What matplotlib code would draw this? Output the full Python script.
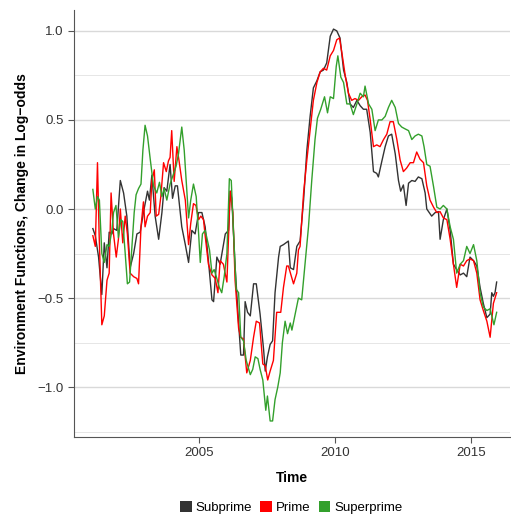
import numpy as np
import matplotlib.pyplot as plt
from matplotlib.patches import Patch

plt.rcParams['font.family'] = ['Liberation Sans', 'DejaVu Sans']

# Subprime
sub_t = [2001.09, 2001.18, 2001.30, 2001.42, 2001.51, 2001.61, 2001.69, 2001.79, 2001.85, 2001.97,
         2002.10, 2002.22, 2002.34, 2002.46, 2002.59, 2002.71, 2002.83, 2002.95, 2003.10, 2003.17,
         2003.26, 2003.38, 2003.51, 2003.63, 2003.71, 2003.81, 2003.93, 2004.02, 2004.12, 2004.20,
         2004.36, 2004.49, 2004.61, 2004.73, 2004.85, 2004.98, 2005.10, 2005.22, 2005.34, 2005.47,
         2005.53, 2005.65, 2005.77, 2005.96, 2006.08, 2006.14, 2006.20, 2006.32, 2006.45, 2006.53,
         2006.63, 2006.69, 2006.78, 2006.88, 2007.00, 2007.10, 2007.24, 2007.37, 2007.43, 2007.51,
         2007.61, 2007.70, 2007.79, 2007.92, 2007.98, 2008.10, 2008.28,
         2008.35, 2008.47, 2008.59, 2008.71, 2008.84, 2008.96, 2009.08, 2009.20, 2009.33, 2009.45,
         2009.57, 2009.69, 2009.82, 2009.94, 2010.06, 2010.18, 2010.31, 2010.43, 2010.55, 2010.67,
         2010.80, 2010.92, 2011.04, 2011.16, 2011.29, 2011.41, 2011.53, 2011.59, 2011.72, 2011.84,
         2011.96, 2012.08, 2012.21, 2012.33, 2012.41, 2012.51, 2012.61, 2012.70, 2012.82, 2012.94,
         2013.06, 2013.19, 2013.31, 2013.37, 2013.55, 2013.68, 2013.80, 2013.86, 2013.98, 2014.11,
         2014.23, 2014.35, 2014.47, 2014.60, 2014.72, 2014.84, 2014.96, 2015.09, 2015.21, 2015.33,
         2015.45, 2015.58, 2015.70, 2015.76, 2015.82, 2015.88, 2015.94]
sub_v = [-0.11, -0.15, -0.27, -0.48, -0.19, -0.33, -0.13, -0.14, -0.11, -0.12,
         0.16, 0.09, -0.04, -0.33, -0.25, -0.14, -0.13, -0.02, 0.10, 0.05,
         0.19, -0.04, -0.17, -0.02, 0.12, 0.10, 0.25, 0.06, 0.13, 0.13,
         -0.10, -0.20, -0.30, -0.12, -0.14, -0.02, -0.02, -0.10, -0.29, -0.51,
         -0.52, -0.27, -0.31, -0.14, -0.12, 0.10, 0.06, -0.32, -0.64, -0.82,
         -0.82, -0.52, -0.58, -0.60, -0.42, -0.42, -0.59, -0.79, -0.91, -0.83,
         -0.76, -0.74, -0.47, -0.27, -0.21, -0.20, -0.18,
         -0.33, -0.34, -0.21, -0.18, 0.05, 0.33, 0.52, 0.68, 0.72, 0.77,
         0.78, 0.82, 0.97, 1.01, 1.00, 0.96, 0.78, 0.71, 0.59, 0.57,
         0.61, 0.58, 0.56, 0.56, 0.43, 0.21, 0.20, 0.18, 0.27, 0.35,
         0.41, 0.42, 0.31, 0.16, 0.10, 0.135, 0.02, 0.145, 0.16, 0.155,
         0.18, 0.17, 0.09, 0.0, -0.04, -0.02, -0.015, -0.17, -0.06, 0.0,
         -0.12, -0.31, -0.34, -0.37, -0.36, -0.38, -0.27, -0.29, -0.32, -0.44,
         -0.53, -0.61, -0.59, -0.47, -0.49, -0.47, -0.41]

# Prime
pri_t = [2001.09, 2001.18, 2001.26, 2001.32, 2001.42, 2001.51, 2001.61, 2001.69, 2001.76, 2001.85,
         2001.95, 2002.03, 2002.10, 2002.19, 2002.28, 2002.36, 2002.46, 2002.59, 2002.71, 2002.77,
         2002.86, 2002.95, 2003.01, 2003.10, 2003.20, 2003.26, 2003.35, 2003.42, 2003.51, 2003.59,
         2003.69, 2003.79, 2003.87, 2003.93, 2003.99, 2004.08, 2004.18, 2004.26, 2004.36, 2004.49,
         2004.61, 2004.69, 2004.79, 2004.88, 2004.98, 2005.06, 2005.16, 2005.22, 2005.34, 2005.47,
         2005.59, 2005.69, 2005.77, 2005.89, 2006.02, 2006.14, 2006.24, 2006.32, 2006.45, 2006.53,
         2006.63, 2006.75, 2006.88, 2007.00, 2007.10, 2007.22, 2007.34, 2007.43, 2007.52, 2007.61,
         2007.73, 2007.85, 2008.00, 2008.10, 2008.22,
         2008.28, 2008.47, 2008.59, 2008.65, 2008.71, 2008.84, 2008.96, 2009.08, 2009.20, 2009.33,
         2009.45, 2009.57, 2009.69, 2009.82, 2009.94, 2010.06, 2010.16, 2010.25, 2010.37, 2010.49,
         2010.61, 2010.73, 2010.86, 2010.98, 2011.10, 2011.19, 2011.29, 2011.41, 2011.53, 2011.65,
         2011.78, 2011.90, 2012.02, 2012.14, 2012.27, 2012.39, 2012.51, 2012.63, 2012.76, 2012.88,
         2013.00, 2013.12, 2013.25, 2013.37, 2013.49, 2013.62, 2013.74, 2013.86, 2013.98, 2014.11,
         2014.23, 2014.35, 2014.47, 2014.60, 2014.72, 2014.84, 2014.96, 2015.09, 2015.21, 2015.33,
         2015.45, 2015.58, 2015.70, 2015.82, 2015.94]
pri_v = [-0.15, -0.21, 0.26, -0.14, -0.65, -0.60, -0.40, -0.36, 0.09, -0.14,
         -0.27, -0.17, 0.0, -0.19, -0.04, -0.14, -0.36, -0.38, -0.39, -0.42,
         -0.10, 0.04, -0.10, -0.04, -0.02, 0.16, 0.22, -0.04, -0.03, 0.07,
         0.26, 0.21, 0.27, 0.29, 0.44, 0.155, 0.35, 0.27, 0.16, 0.05,
         -0.20, -0.08, 0.03, 0.02, -0.06, -0.04, -0.06, -0.15, -0.31, -0.37,
         -0.39, -0.47, -0.29, -0.31, -0.41, 0.10, -0.02, -0.40, -0.67, -0.72,
         -0.73, -0.92, -0.85, -0.72, -0.63, -0.64, -0.87, -0.88, -0.96, -0.91,
         -0.85, -0.58, -0.58, -0.44, -0.32,
         -0.32, -0.42, -0.36, -0.23, -0.21, 0.09, 0.275, 0.44, 0.61, 0.71,
         0.77, 0.79, 0.78, 0.86, 0.89, 0.95, 0.96, 0.875, 0.75, 0.65,
         0.61, 0.62, 0.61, 0.63, 0.64, 0.61, 0.50, 0.35, 0.36, 0.35,
         0.39, 0.42, 0.49, 0.49, 0.39, 0.275, 0.21, 0.23, 0.26, 0.26,
         0.32, 0.28, 0.26, 0.13, 0.05, 0.01, -0.02, -0.015, -0.05, -0.06,
         -0.17, -0.31, -0.44, -0.31, -0.32, -0.29, -0.28, -0.29, -0.36, -0.51,
         -0.57, -0.63, -0.72, -0.53, -0.47]

# Superprime
sup_t = [2001.09, 2001.18, 2001.26, 2001.33, 2001.42, 2001.51, 2001.61, 2001.69, 2001.79, 2001.85,
         2001.94, 2002.03, 2002.12, 2002.19, 2002.28, 2002.36, 2002.44, 2002.52, 2002.61, 2002.68,
         2002.77, 2002.86, 2002.93, 2003.01, 2003.10, 2003.20, 2003.32, 2003.44, 2003.54, 2003.63,
         2003.71, 2003.81, 2003.93, 2004.06, 2004.15, 2004.24, 2004.36, 2004.45, 2004.55, 2004.61,
         2004.69, 2004.79, 2004.89, 2004.98, 2005.04, 2005.12, 2005.22, 2005.28, 2005.38, 2005.47,
         2005.55, 2005.65, 2005.74, 2005.83, 2005.92, 2006.02, 2006.11, 2006.18, 2006.26, 2006.36,
         2006.45, 2006.53, 2006.63, 2006.73, 2006.88, 2006.97, 2007.06, 2007.16, 2007.24, 2007.34,
         2007.45, 2007.51, 2007.61, 2007.70, 2007.79, 2007.89, 2007.98, 2008.06, 2008.16, 2008.25,
         2008.35, 2008.41, 2008.53, 2008.65, 2008.77, 2008.90, 2009.02, 2009.14, 2009.26, 2009.35,
         2009.47, 2009.61, 2009.72, 2009.82, 2009.94, 2010.04, 2010.10, 2010.21, 2010.31, 2010.43,
         2010.55, 2010.67, 2010.80, 2010.92, 2011.04, 2011.10, 2011.23, 2011.35, 2011.47, 2011.59,
         2011.72, 2011.84, 2011.96, 2012.08, 2012.21, 2012.33, 2012.45, 2012.57, 2012.70, 2012.82,
         2012.94, 2013.06, 2013.19, 2013.27, 2013.37, 2013.49, 2013.62, 2013.74, 2013.86, 2013.98,
         2014.11, 2014.23, 2014.35, 2014.47, 2014.60, 2014.72, 2014.84, 2014.96, 2015.09, 2015.21,
         2015.33, 2015.45, 2015.58, 2015.70, 2015.84, 2015.94]
sup_v = [0.11, 0.0, 0.07, 0.05, -0.25, -0.30, -0.20, -0.21, -0.12, -0.02,
         0.02, -0.16, -0.06, -0.07, -0.25, -0.42, -0.41, -0.23, -0.02, 0.08,
         0.115, 0.14, 0.33, 0.47, 0.41, 0.28, 0.13, 0.09, 0.15, 0.07,
         0.115, 0.05, 0.14, 0.20, 0.24, 0.31, 0.46, 0.33, 0.09, -0.05,
         0.05, 0.14, 0.07, -0.14, -0.30, -0.14, -0.12, -0.16, -0.23, -0.36,
         -0.34, -0.39, -0.44, -0.47, -0.38, -0.25, 0.17, 0.16, -0.12, -0.45,
         -0.47, -0.72, -0.74, -0.85, -0.93, -0.90, -0.83, -0.84, -0.90, -0.96,
         -1.13, -1.05, -1.19, -1.19, -1.07, -1.00, -0.92, -0.75, -0.63, -0.70,
         -0.64, -0.68, -0.59, -0.50, -0.51, -0.30, -0.10, 0.16, 0.39, 0.51,
         0.56, 0.63, 0.54, 0.63, 0.62, 0.80, 0.86, 0.74, 0.71, 0.59,
         0.59, 0.53, 0.59, 0.65, 0.63, 0.69, 0.59, 0.56, 0.44, 0.50,
         0.50, 0.52, 0.57, 0.61, 0.57, 0.48, 0.46, 0.45, 0.44, 0.39,
         0.41, 0.42, 0.41, 0.35, 0.25, 0.24, 0.125, 0.01, 0.0, 0.02,
         0.0, -0.10, -0.17, -0.36, -0.31, -0.29, -0.21, -0.25, -0.20, -0.29,
         -0.47, -0.55, -0.57, -0.56, -0.65, -0.58]

series = [("Subprime", sub_t, sub_v, "#333333"),
          ("Prime", pri_t, pri_v, "#ff0000"),
          ("Superprime", sup_t, sup_v, "#33a02c")]

fig = plt.figure(figsize=(5.11, 5.19), dpi=100)
ax = fig.add_axes([0.145, 0.158, 0.853, 0.823])

for name, t, v, c in series:
    ax.plot(t, v, color=c, linewidth=1.0)

ax.set_xlim(2000.40, 2016.43)
ax.set_ylim(-1.28, 1.118)
ax.set_yticks([-1.0, -0.5, 0.0, 0.5, 1.0])
ax.set_yticklabels(["\u22121.0", "\u22120.5", "0.0", "0.5", "1.0"])
ax.set_xticks([2005, 2010, 2015])
ax.set_yticks([-1.25, -0.75, -0.25, 0.25, 0.75], minor=True)
ax.grid(axis="y", which="major", color="#d9d9d9", linewidth=1.0)
ax.grid(axis="y", which="minor", color="#e6e6e6", linewidth=0.7)
ax.set_axisbelow(True)
for s in ["top", "right"]:
    ax.spines[s].set_visible(False)
for s in ["left", "bottom"]:
    ax.spines[s].set_color("#555555")
ax.tick_params(axis="both", which="major", colors="#555555", labelcolor="#333333",
               labelsize=9.5, length=4)
ax.tick_params(axis="y", which="minor", length=0)
ax.set_xlabel("Time", fontsize=10, fontweight="bold", labelpad=8)
ax.set_ylabel("Environment Functions, Change in Log\u2212odds", fontsize=10,
              fontweight="bold", labelpad=6)

handles = [Patch(facecolor=c, label=n) for n, _, _, c in series]
fig.legend(handles=handles, loc="center", bbox_to_anchor=(0.57, 0.022), ncol=3,
           frameon=False, fontsize=9.5, handlelength=0.9, handleheight=0.9,
           handletextpad=0.3, columnspacing=0.6)

fig.savefig("out.png", dpi=100)
